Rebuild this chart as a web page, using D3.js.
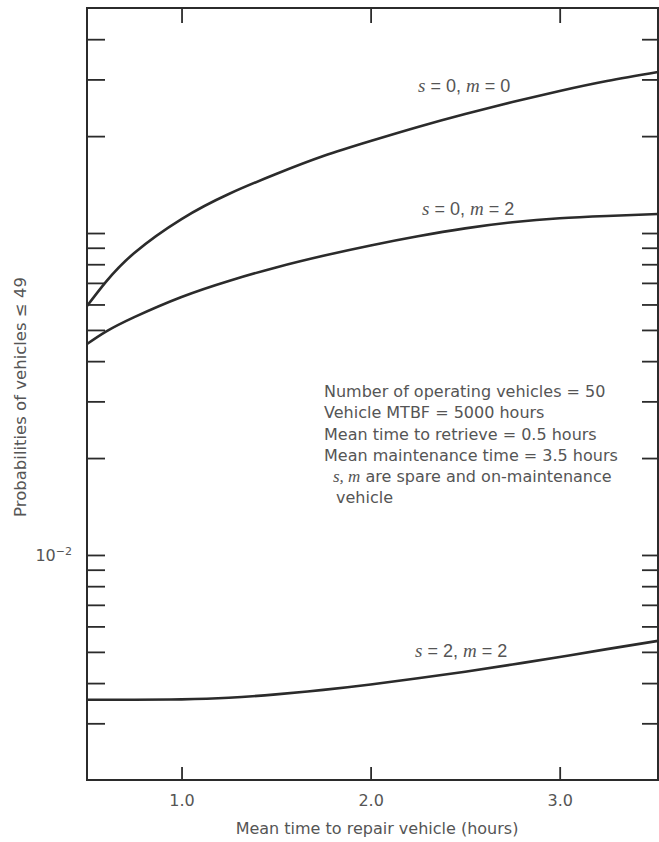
<!DOCTYPE html>
<html>
<head>
<meta charset="utf-8">
<script src="https://cdn.jsdelivr.net/npm/d3@7"></script>
<style>
  html, body { margin: 0; padding: 0; background: #ffffff; }
  svg { display: block; }
</style>
</head>
<body>
<svg id="chart" width="659" height="842"></svg>
<script>
// ---- data ----
const repairHours = [0.5, 0.6, 0.75, 1.0, 1.25, 1.5, 1.75, 2.0, 2.25, 2.5, 2.75, 3.0, 3.25, 3.52];
const probS0M0 = [0.0593, 0.0705, 0.0867, 0.1105, 0.1322, 0.1525, 0.1734, 0.1931, 0.2135, 0.2342, 0.2551, 0.2761, 0.2965, 0.3162];
const probS0M2 = [0.0452, 0.0494, 0.0548, 0.0633, 0.0710, 0.0782, 0.0850, 0.0915, 0.0977, 0.1034, 0.1080, 0.1112, 0.1130, 0.1146];
const probS2M2 = [0.00355, 0.00355, 0.00355, 0.00356, 0.00360, 0.00369, 0.00381, 0.00396, 0.00414, 0.00434, 0.00457, 0.00482, 0.00510, 0.00541];
const xTickValues = [1.0, 2.0, 3.0];
const xTickLabels = ["1.0", "2.0", "3.0"];
const yTickValues = [0.003, 0.004, 0.005, 0.006, 0.007, 0.008, 0.009, 0.01,
                     0.02, 0.03, 0.04, 0.05, 0.06, 0.07, 0.08, 0.09, 0.1,
                     0.2, 0.3, 0.4];
const yLabeledTick = 0.01;
const seriesNames = [["0", "0"], ["0", "2"], ["2", "2"]];
const annotationLines = [
  "Number of operating vehicles = 50",
  "Vehicle MTBF = 5000 hours",
  "Mean time to retrieve = 0.5 hours",
  "Mean maintenance time = 3.5 hours"
];
const annotationNote = ["are spare and on-maintenance", "vehicle"];
const xTitle = "Mean time to repair vehicle (hours)";
const yTitle = "Probabilities of vehicles \u2264 49";

// ---- layout ----
const W = 659, H = 842;
const mLeft = 87, mRight = 658, mTop = 8, mBottom = 780;
const ink = "#2b2b2b", textInk = "#555555";
const font = "'DejaVu Sans', sans-serif";
const labelFont = "'Liberation Sans', Arial, sans-serif";
const italicFont = "'Liberation Serif', 'Times New Roman', serif";

const svg = d3.select("#chart");
svg.append("rect").attr("width", W).attr("height", H).attr("fill", "#fff");

const x = d3.scaleLinear().domain([0.5, 3.52]).range([mLeft, mRight]);
const y = d3.scaleLog().domain([0.002, 0.5]).range([mBottom, mTop]);

// axes
const gLeft = svg.append("g").attr("transform", `translate(${mLeft},0)`)
  .call(d3.axisLeft(y).tickValues(yTickValues).tickSizeInner(-18).tickSizeOuter(0).tickPadding(15)
        .tickFormat(d => Math.abs(d - yLabeledTick) < 1e-9 ? "10" : ""));
const gRight = svg.append("g").attr("transform", `translate(${mRight},0)`)
  .call(d3.axisRight(y).tickValues(yTickValues).tickSizeInner(-16).tickSizeOuter(0).tickFormat(""));
const gBottom = svg.append("g").attr("transform", `translate(0,${mBottom})`)
  .call(d3.axisBottom(x).tickValues(xTickValues).tickSizeInner(-13).tickSizeOuter(0).tickPadding(15)
        .tickFormat((d, i) => xTickLabels[i]));
const gTop = svg.append("g").attr("transform", `translate(0,${mTop})`)
  .call(d3.axisTop(x).tickValues(xTickValues).tickSizeInner(-15).tickSizeOuter(0).tickFormat(""));

[gLeft, gRight, gBottom, gTop].forEach(g => {
  g.select(".domain").remove();
  g.selectAll(".tick line").attr("stroke", ink).attr("stroke-width", 1.8);
  g.selectAll(".tick text").attr("fill", textInk).attr("font-family", font).attr("font-size", 16);
});
// superscript on the 10^-2 label
gLeft.selectAll(".tick text").filter(d => Math.abs(d - yLabeledTick) < 1e-9)
  .append("tspan").attr("dy", "-0.55em").attr("font-size", 11).text("\u22122");

// frame
svg.append("rect").attr("x", mLeft).attr("y", mTop).attr("width", mRight - mLeft).attr("height", mBottom - mTop)
  .attr("fill", "none").attr("stroke", ink).attr("stroke-width", 2);

// curves
const line = d3.line().x((d, i) => x(repairHours[i])).y(d => y(d)).curve(d3.curveNatural);
[probS0M0, probS0M2, probS2M2].forEach(series => {
  svg.append("path").datum(series).attr("d", line)
    .attr("fill", "none").attr("stroke", ink).attr("stroke-width", 2.6);
});

// curve labels
const labelPos = [[418, 92], [422, 215], [415, 657]];
seriesNames.forEach((nm, i) => {
  const t = svg.append("text").attr("x", labelPos[i][0]).attr("y", labelPos[i][1])
    .attr("font-family", labelFont).attr("font-size", 18).attr("fill", textInk);
  t.append("tspan").attr("font-style", "italic").attr("font-family", italicFont).attr("font-size", 19).text("s");
  t.append("tspan").text(` = ${nm[0]}, `);
  t.append("tspan").attr("font-style", "italic").attr("font-family", italicFont).attr("font-size", 19).text("m");
  t.append("tspan").text(` = ${nm[1]}`);
});

// annotation
const annBase = [397, 418, 440, 461];
annotationLines.forEach((s, i) => {
  svg.append("text").attr("x", 324).attr("y", annBase[i])
    .attr("font-family", font).attr("font-size", 16).attr("fill", textInk).text(s);
});
const note = svg.append("text").attr("x", 333).attr("y", 482)
  .attr("font-family", font).attr("font-size", 16).attr("fill", textInk);
note.append("tspan").attr("font-style", "italic").attr("font-family", italicFont).attr("font-size", 17).text("s, m");
note.append("tspan").text(" " + annotationNote[0]);
svg.append("text").attr("x", 336).attr("y", 503)
  .attr("font-family", font).attr("font-size", 16).attr("fill", textInk).text(annotationNote[1]);

// axis titles
svg.append("text").attr("x", 377).attr("y", 834).attr("text-anchor", "middle")
  .attr("font-family", font).attr("font-size", 16).attr("fill", textInk).text(xTitle);
svg.append("text").attr("transform", "translate(26,397) rotate(-90)").attr("text-anchor", "middle")
  .attr("font-family", font).attr("font-size", 16.5).attr("fill", textInk).text(yTitle);
</script>
</body>
</html>
